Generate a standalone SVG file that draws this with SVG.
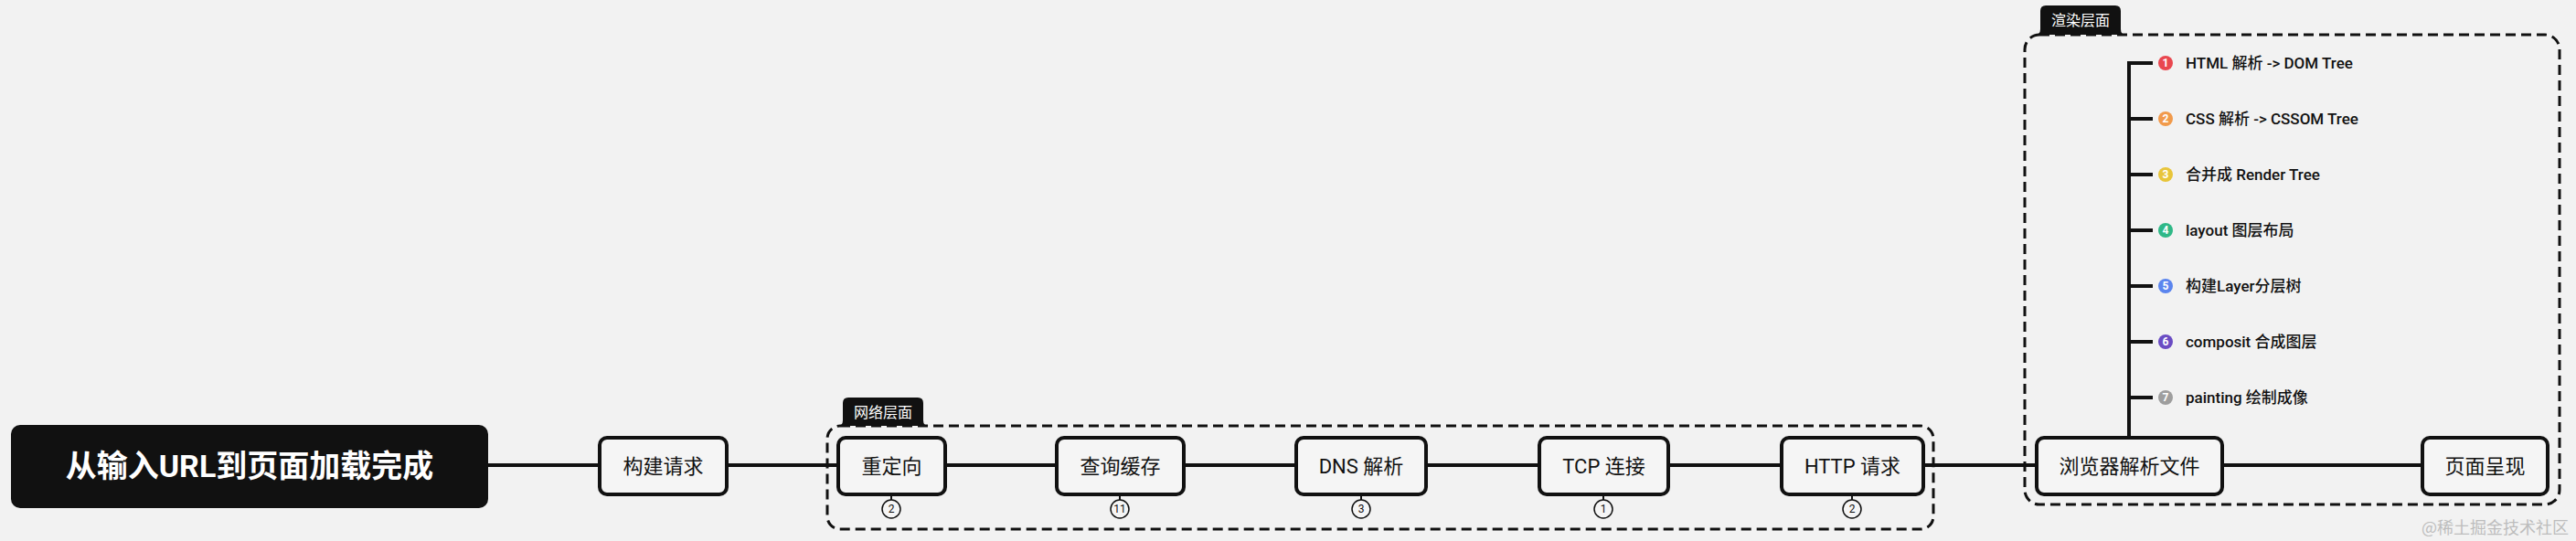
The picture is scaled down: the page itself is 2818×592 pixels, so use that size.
<svg xmlns="http://www.w3.org/2000/svg" width="2818" height="592" viewBox="0 0 2818 592">
<style>
.bg{fill:#f2f2f2}
.node{fill:#f5f5f5;stroke:#111;stroke-width:4}
.nt{font-family:Roboto,"Noto Sans CJK SC",sans-serif;font-size:22px;font-weight:400;fill:#111;text-anchor:middle;dominant-baseline:central}
.line{stroke:#111;stroke-width:4;fill:none}
.thin{stroke:#111;stroke-width:2;fill:none}
.dash{fill:none;stroke:#111;stroke-width:3;stroke-dasharray:11 6}
.tab{fill:#111}
.tt{font-family:Roboto,"Noto Sans CJK SC",sans-serif;font-size:16px;fill:#fff;text-anchor:middle;dominant-baseline:central}
.it{font-family:Roboto,"Noto Sans CJK SC",sans-serif;font-size:17px;font-weight:500;fill:#111;dominant-baseline:central}
.ic{font-family:Roboto,"Noto Sans CJK SC",sans-serif;font-size:12px;font-weight:700;fill:#fff;text-anchor:middle;dominant-baseline:central}
.badge{fill:#f5f5f5;stroke:#111;stroke-width:1.5}
.bt{font-family:Roboto,"Noto Sans CJK SC",sans-serif;font-size:12px;fill:#111;text-anchor:middle;dominant-baseline:central}
</style>
<rect class="bg" x="0" y="0" width="2818" height="592"/>

<g id="groups">
  <rect class="dash" x="905" y="466" width="1210" height="113" rx="14"/>
  <path class="tab" d="M916,466 Q922,466 922,460 L922,441 Q922,435 928,435 L1004,435 Q1010,435 1010,441 L1010,460 Q1010,466 1016,466 Z"/>
  <text class="tt" x="966" y="451">网络层面</text>
  <rect class="dash" x="2215" y="38" width="585" height="514" rx="16"/>
  <path class="tab" d="M2226,38 Q2232,38 2232,32 L2232,12 Q2232,6 2238,6 L2314,6 Q2320,6 2320,12 L2320,32 Q2320,38 2326,38 Z"/>
  <text class="tt" x="2276" y="22">渲染层面</text>
</g>

<g id="connectors">
  <line class="line" x1="534" y1="509" x2="656" y2="509"/>
  <line class="line" x1="795" y1="509" x2="917" y2="509"/>
  <line class="line" x1="1034" y1="509" x2="1156" y2="509"/>
  <line class="line" x1="1295" y1="509" x2="1418" y2="509"/>
  <line class="line" x1="1560" y1="509" x2="1684" y2="509"/>
  <line class="line" x1="1825" y1="509" x2="1949" y2="509"/>
  <line class="line" x1="2104" y1="509" x2="2228" y2="509"/>
  <line class="line" x1="2431" y1="509" x2="2650" y2="509"/>
  <line class="line" x1="2329" y1="67" x2="2329" y2="480"/>
  <line class="line" x1="2327" y1="69" x2="2355" y2="69"/>
  <line class="line" x1="2327" y1="130" x2="2355" y2="130"/>
  <line class="line" x1="2327" y1="191" x2="2355" y2="191"/>
  <line class="line" x1="2327" y1="252" x2="2355" y2="252"/>
  <line class="line" x1="2327" y1="313" x2="2355" y2="313"/>
  <line class="line" x1="2327" y1="374" x2="2355" y2="374"/>
  <line class="line" x1="2327" y1="435" x2="2355" y2="435"/>
  <line class="thin" x1="975" y1="541" x2="975" y2="547"/>
  <line class="thin" x1="1225" y1="541" x2="1225" y2="547"/>
  <line class="thin" x1="1489" y1="541" x2="1489" y2="547"/>
  <line class="thin" x1="1754" y1="541" x2="1754" y2="547"/>
  <line class="thin" x1="2026" y1="541" x2="2026" y2="547"/>
</g>

<g id="root">
  <rect x="12" y="465" width="522" height="91" rx="10" fill="#111"/>
  <text x="273" y="510" font-family="Roboto,'Noto Sans CJK SC',sans-serif" font-size="34" font-weight="700" fill="#fff" text-anchor="middle" dominant-baseline="central">从输入URL到页面加载完成</text>
</g>
<g id="n-build"><rect class="node" x="656" y="479" width="139" height="62" rx="8"/><text class="nt" x="725.5" y="510">构建请求</text></g>
<g id="n-redirect"><rect class="node" x="917" y="479" width="117" height="62" rx="8"/><text class="nt" x="975.5" y="510">重定向</text>
  <circle class="badge" cx="975" cy="557" r="10"/><text class="bt" x="975" y="557">2</text></g>
<g id="n-cache"><rect class="node" x="1156" y="479" width="139" height="62" rx="8"/><text class="nt" x="1225.5" y="510">查询缓存</text>
  <circle class="badge" cx="1225" cy="557" r="10"/><text class="bt" x="1225" y="557">11</text></g>
<g id="n-dns"><rect class="node" x="1418" y="479" width="142" height="62" rx="8"/><text class="nt" x="1489" y="510">DNS 解析</text>
  <circle class="badge" cx="1489" cy="557" r="10"/><text class="bt" x="1489" y="557">3</text></g>
<g id="n-tcp"><rect class="node" x="1684" y="479" width="141" height="62" rx="8"/><text class="nt" x="1754.5" y="510">TCP 连接</text>
  <circle class="badge" cx="1754" cy="557" r="10"/><text class="bt" x="1754" y="557">1</text></g>
<g id="n-http"><rect class="node" x="1949" y="479" width="155" height="62" rx="8"/><text class="nt" x="2026.5" y="510">HTTP 请求</text>
  <circle class="badge" cx="2026" cy="557" r="10"/><text class="bt" x="2026" y="557">2</text></g>
<g id="n-parse"><rect class="node" x="2228" y="479" width="203" height="62" rx="8"/><text class="nt" x="2329.5" y="510">浏览器解析文件</text></g>
<g id="n-show"><rect class="node" x="2650" y="479" width="137" height="62" rx="8"/><text class="nt" x="2718.5" y="510">页面呈现</text></g>

<g id="render-steps">
  <g id="s1"><circle cx="2369" cy="69" r="8" fill="#e9474f"/><text class="ic" x="2369" y="69">1</text><text class="it" x="2391" y="69">HTML 解析 -&gt; DOM Tree</text></g>
  <g id="s2"><circle cx="2369" cy="130" r="8" fill="#f19a4b"/><text class="ic" x="2369" y="130">2</text><text class="it" x="2391" y="130">CSS 解析 -&gt; CSSOM Tree</text></g>
  <g id="s3"><circle cx="2369" cy="191" r="8" fill="#e8c53a"/><text class="ic" x="2369" y="191">3</text><text class="it" x="2391" y="191">合并成 Render Tree</text></g>
  <g id="s4"><circle cx="2369" cy="252" r="8" fill="#2fb887"/><text class="ic" x="2369" y="252">4</text><text class="it" x="2391" y="252">layout 图层布局</text></g>
  <g id="s5"><circle cx="2369" cy="313" r="8" fill="#5b85ee"/><text class="ic" x="2369" y="313">5</text><text class="it" x="2391" y="313">构建Layer分层树</text></g>
  <g id="s6"><circle cx="2369" cy="374" r="8" fill="#6a4cc3"/><text class="ic" x="2369" y="374">6</text><text class="it" x="2391" y="374">composit 合成图层</text></g>
  <g id="s7"><circle cx="2369" cy="435" r="8" fill="#9e9e9e"/><text class="ic" x="2369" y="435">7</text><text class="it" x="2391" y="435">painting 绘制成像</text></g>
</g>

<text x="2810" y="576" font-family="'Noto Sans CJK SC',sans-serif" font-size="18" fill="#bdbdbd" text-anchor="end" dominant-baseline="central">@稀土掘金技术社区</text>
</svg>
